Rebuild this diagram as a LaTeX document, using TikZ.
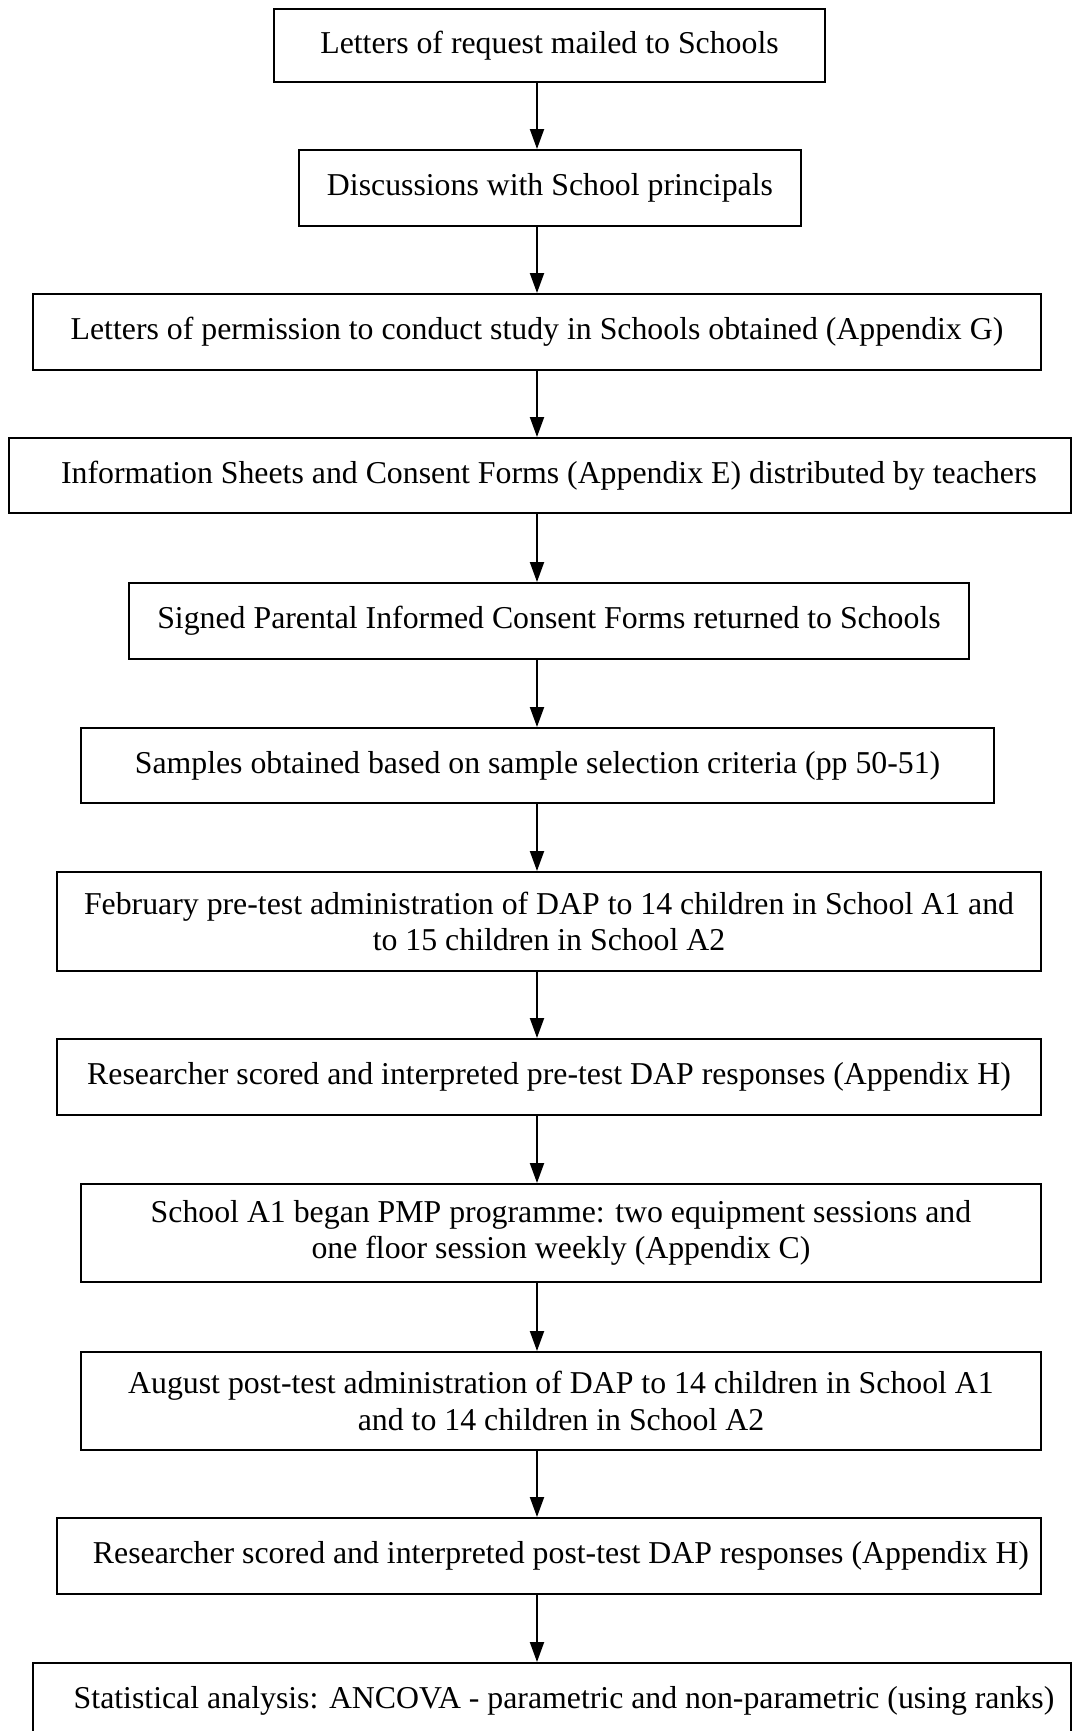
\documentclass[tikz,border=0pt]{standalone}
\usepackage{fontspec}
\setmainfont{Liberation Serif}
\usetikzlibrary{arrows.meta}
\tikzset{
  stage/.style={draw, line width=1pt, inner sep=0pt, align=center,
    font=\fontsize{15.9}{18.2}\selectfont},
  flow/.style={line width=1pt, -{Triangle[length=10pt,width=7pt]}}
}
\begin{document}
\begin{tikzpicture}[x=0.5pt,y=-0.5pt]
		\useasboundingbox (0,0) rectangle (1081,1731);
		% column of the arrows
		\coordinate (col) at (537,0);
		% stages
		\node[stage, minimum width=275.5pt, minimum height=36.5pt] (s1) at (549.5,45.5) {Letters of request mailed to Schools};
		\node[stage, minimum width=251pt, minimum height=38pt] (s2) at (550,188) {Discussions with School principals};
		\node[stage, minimum width=504pt, minimum height=38pt] (s3) at (537,332) {Letters of permission to conduct study in Schools obtained (Appendix G)};
		\node[stage, minimum width=531pt, minimum height=37.5pt] (s4) at (540,475.5) {\hspace*{9pt}Information Sheets and Consent Forms (Appendix E) distributed by teachers};
		\node[stage, minimum width=420pt, minimum height=38pt] (s5) at (549,621) {Signed Parental Informed Consent Forms returned to Schools};
		\node[stage, minimum width=456.5pt, minimum height=37.5pt] (s6) at (537.5,765.5) {Samples obtained based on sample selection criteria (pp 50-51)};
		\node[stage, minimum width=492pt, minimum height=49.5pt] (s7) at (549,921.5) {February pre-test administration of DAP to 14 children in School A1 and\\ to 15 children in School A2};
		\node[stage, minimum width=492pt, minimum height=38pt] (s8) at (549,1077) {Researcher scored and interpreted pre-test DAP responses (Appendix H)};
		\node[stage, minimum width=480pt, minimum height=49pt] (s9) at (561,1233) {School A1 began PMP programme: two equipment sessions and\\ one floor session weekly (Appendix C)};
		\node[stage, minimum width=480pt, minimum height=49pt] (s10) at (561,1401) {August post-test administration of DAP to 14 children in School A1\\ and to 14 children in School A2};
		\node[stage, minimum width=492pt, minimum height=38pt] (s11) at (549,1556) {\hspace*{12pt}Researcher scored and interpreted post-test DAP responses (Appendix H)};
		\node[stage, minimum width=519pt, minimum height=38pt] (s12) at (552,1701) {\hspace*{12pt}Statistical analysis: ANCOVA - parametric and non-parametric (using ranks)};
		% arrows
		\foreach \a/\b in {s1/s2,s2/s3,s3/s4,s4/s5,s5/s6,s6/s7,s7/s8,s8/s9,s9/s10,s10/s11,s11/s12}
			\draw[flow] (\a.south -| col) -- (\b.north -| col);
\end{tikzpicture}
\end{document}
